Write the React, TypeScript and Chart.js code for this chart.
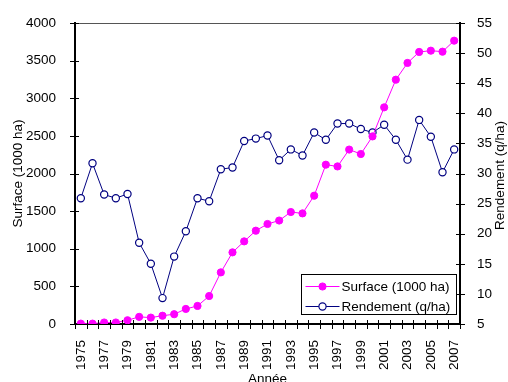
import React, { useEffect, useRef } from "react";
import { Chart, registerables } from "chart.js";

Chart.register(...registerables);

// Years on the category axis
const years = [
  "1975", "1976", "1977", "1978", "1979", "1980", "1981", "1982", "1983", "1984", "1985",
  "1986", "1987", "1988", "1989", "1990", "1991", "1992", "1993", "1994", "1995", "1996",
  "1997", "1998", "1999", "2000", "2001", "2002", "2003", "2004", "2005", "2006", "2007",
];

// Cultivated area, thousands of hectares (left axis)
const surface = [
  5, 5, 20, 20, 50, 95, 85, 110, 130, 200, 240,
  372, 686, 952, 1098, 1240, 1329, 1375, 1488, 1470, 1705, 2117,
  2094, 2318, 2259, 2493, 2879, 3247, 3469, 3615, 3632, 3619, 3765,
];

// Yield, quintals per hectare (right axis)
const rendement = [
  25.9, 31.7, 26.5, 25.9, 26.6, 18.5, 15.0, 9.3, 16.2, 20.4, 25.9,
  25.4, 30.7, 31.0, 35.4, 35.8, 36.3, 32.2, 34.0, 33.0, 36.8, 35.6,
  38.3, 38.3, 37.4, 36.8, 38.1, 35.6, 32.3, 38.9, 36.1, 30.2, 34.0,
];

const seriesLabels = ["Surface (1000 ha)", "Rendement (q/ha)"];
const axisTitles = { x: "Année", left: "Surface (1000 ha)", right: "Rendement (q/ha)" };

const FONT_FAMILY = '"Liberation Sans", Arial, Helvetica, sans-serif';
const FONT_SIZE = 13.5;
const CANVAS_W = 508;
const CANVAS_H = 392;

// Frame line on top, tick marks crossing the axes, right-hand axis title
// reading upwards, and a boxed legend inside the plot
const decorPlugin = {
  id: "decor",
  afterDraw(chart: any) {
    const { ctx, chartArea: a, scales } = chart;
    ctx.save();

    ctx.lineWidth = 1;
    ctx.strokeStyle = "#555";
    ctx.beginPath();
    ctx.moveTo(a.left, a.top + 0.5);
    ctx.lineTo(a.right, a.top + 0.5);
    ctx.stroke();

    ctx.strokeStyle = "#000";
    const seg = (x1: number, y1: number, x2: number, y2: number) => {
      ctx.beginPath();
      ctx.moveTo(x1, y1);
      ctx.lineTo(x2, y2);
      ctx.stroke();
    };

    const yl = scales.y;
    yl.ticks.forEach((_t: any, i: number) => {
      const p = Math.round(yl.getPixelForTick(i)) + 0.5;
      seg(a.left - 5, p, a.left + 4, p);
    });
    const yr = scales.y1;
    yr.ticks.forEach((_t: any, i: number) => {
      const p = Math.round(yr.getPixelForTick(i)) + 0.5;
      seg(a.right - 4, p, a.right + 5, p);
    });
    const xs = scales.x;
    for (let i = 0; i <= years.length; i++) {
      const p = Math.round(xs.getPixelForValue(i - 0.5)) + 0.5;
      seg(p, a.bottom - 4, p, a.bottom + 5);
    }

    ctx.font = `${FONT_SIZE}px ${FONT_FAMILY}`;

    // right axis title, rotated to read bottom to top
    ctx.save();
    ctx.translate(yr.right - 8, (a.top + a.bottom) / 2 + 2);
    ctx.rotate(-Math.PI / 2);
    ctx.textAlign = "center";
    ctx.textBaseline = "middle";
    ctx.fillStyle = "#000";
    ctx.fillText(axisTitles.right, 0, 0);
    ctx.restore();

    // legend box
    const boxW = 155;
    const boxH = 40;
    const bx = Math.round(a.right - 4 - boxW) + 0.5;
    const by = Math.round(a.bottom - 10 - boxH) + 0.5;
    ctx.fillStyle = "#fff";
    ctx.fillRect(bx, by, boxW, boxH);
    ctx.strokeStyle = "#000";
    ctx.lineWidth = 1;
    ctx.strokeRect(bx, by, boxW, boxH);

    ctx.textBaseline = "middle";
    ctx.textAlign = "left";
    chart.data.datasets.forEach((ds: any, i: number) => {
      const ry = by + 12 + i * 20;
      ctx.strokeStyle = ds.borderColor;
      ctx.lineWidth = ds.borderWidth;
      seg(bx + 4, ry, bx + 38, ry);
      ctx.beginPath();
      ctx.arc(bx + 21, ry, ds.pointRadius, 0, Math.PI * 2);
      ctx.fillStyle = ds.pointBackgroundColor;
      ctx.fill();
      ctx.lineWidth = ds.pointBorderWidth;
      ctx.strokeStyle = ds.pointBorderColor;
      ctx.stroke();
      ctx.fillStyle = "#000";
      ctx.fillText(ds.label, bx + 40, ry + 0.5);
    });

    ctx.restore();
  },
};

export default function App() {
  const canvasRef = useRef<HTMLCanvasElement | null>(null);

  useEffect(() => {
    if (!canvasRef.current) return;
    const font = { family: FONT_FAMILY, size: FONT_SIZE };
    const plain = (v: any) => String(v);
    const chart = new Chart(canvasRef.current, {
      type: "line",
      data: {
        labels: years,
        datasets: [
          {
            label: seriesLabels[0],
            data: surface,
            yAxisID: "y",
            borderColor: "#FF00FF",
            borderWidth: 1,
            pointRadius: 3.6,
            pointBackgroundColor: "#FF00FF",
            pointBorderColor: "#FF00FF",
            pointBorderWidth: 1,
            tension: 0,
          },
          {
            label: seriesLabels[1],
            data: rendement,
            yAxisID: "y1",
            borderColor: "#000080",
            borderWidth: 1,
            pointRadius: 3.6,
            pointBackgroundColor: "#FFFFFF",
            pointBorderColor: "#000080",
            pointBorderWidth: 1.2,
            tension: 0,
          },
        ],
      },
      options: {
        responsive: false,
        animation: false,
        layout: { padding: { top: 23, left: 0, right: 0, bottom: 0 } },
        plugins: {
          legend: { display: false },
          tooltip: { enabled: false },
        },
        scales: {
          x: {
            type: "category",
            offset: true,
            grid: { display: false, offset: true },
            border: { display: true, color: "#000", width: 2 },
            ticks: {
              autoSkip: false,
              minRotation: 90,
              maxRotation: 90,
              padding: 8,
              color: "#000",
              font,
              callback: (_v: any, i: number) => (i % 2 === 0 ? years[i] : ""),
            },
            title: {
              display: true,
              text: axisTitles.x,
              color: "#000",
              font,
              padding: { top: 0, bottom: 5 },
            },
            afterFit: (s: any) => {
              s.height = CANVAS_H - 324;
            },
          },
          y: {
            position: "left",
            min: 0,
            max: 4000,
            grid: { display: false },
            border: { display: true, color: "#000", width: 2 },
            ticks: { stepSize: 500, padding: 11, color: "#000", font, callback: plain },
            title: {
              display: true,
              text: axisTitles.left,
              color: "#000",
              font,
              padding: { top: 10, bottom: 0 },
            },
            afterFit: (s: any) => {
              s.width = 75;
            },
          },
          y1: {
            position: "right",
            min: 5,
            max: 55,
            grid: { display: false },
            border: { display: true, color: "#000", width: 2 },
            ticks: { stepSize: 5, padding: 9, color: "#000", font, callback: plain },
            afterFit: (s: any) => {
              s.width = CANVAS_W - 460;
            },
          },
        },
      },
      plugins: [decorPlugin],
    } as any);
    return () => chart.destroy();
  }, []);

  return (
    <div
      style={{
        position: "fixed",
        left: 0,
        top: 0,
        width: CANVAS_W,
        height: 382,
        overflow: "hidden",
        background: "#fff",
      }}
    >
      <canvas
        ref={canvasRef}
        width={CANVAS_W}
        height={CANVAS_H}
        style={{ width: CANVAS_W, height: CANVAS_H, display: "block" }}
      />
    </div>
  );
}
